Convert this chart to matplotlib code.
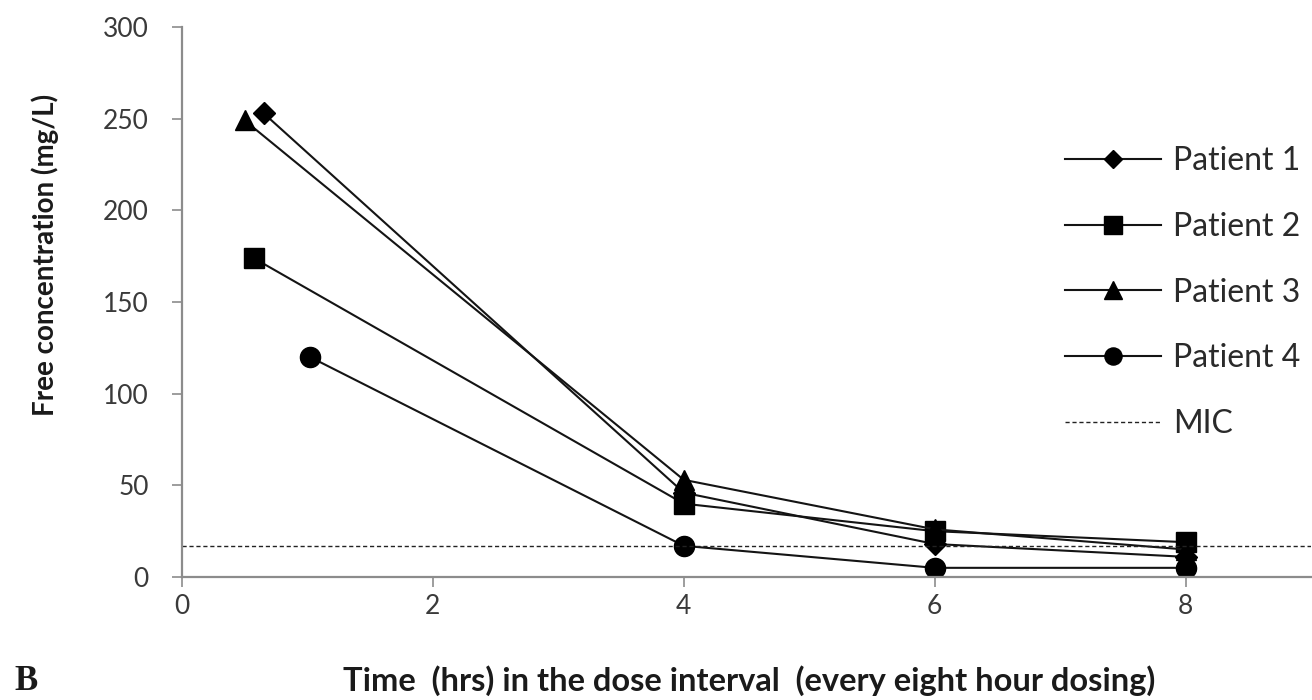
import matplotlib
matplotlib.use("Agg")
import matplotlib.pyplot as plt

# ---- data ----
p1_x = [0.65, 4, 6, 8]
p1_y = [253, 46, 18, 11]
p2_x = [0.57, 4, 6, 8]
p2_y = [174, 40, 25, 19]
p3_x = [0.50, 4, 6, 8]
p3_y = [249, 53, 26, 15]
p4_x = [1.02, 4, 6, 8]
p4_y = [120, 17, 5, 5]
mic_value = 17
labels = ["Patient 1", "Patient 2", "Patient 3", "Patient 4", "MIC"]
x_ticks = [0, 2, 4, 6, 8]
y_ticks = [0, 50, 100, 150, 200, 250, 300]

plt.rcParams['font.family'] = ['Lato', 'DejaVu Sans']

W, H = 1312, 700
fig = plt.figure(figsize=(W / 100, H / 100), dpi=100)
ax = fig.add_axes([182 / W, 1 - 577 / H, (1311 - 182) / W, (577 - 27) / H])

line_kw = dict(color='#141414', lw=1.5, markerfacecolor='black', markeredgecolor='black')
ax.plot(p1_x, p1_y, marker='D', ms=11, label=labels[0], **line_kw)
ax.plot(p2_x, p2_y, marker='s', ms=15, label=labels[1], **line_kw)
ax.plot(p3_x, p3_y, marker='^', ms=15, label=labels[2], **line_kw)
ax.plot(p4_x, p4_y, marker='o', ms=14.5, label=labels[3], **line_kw)
ax.axhline(mic_value, color='#222222', lw=1.0, ls=(0, (3, 2)), label=labels[4])

ax.set_xlim(0, 9)
ax.set_ylim(0, 300)
ax.set_xticks(x_ticks)
ax.set_yticks(y_ticks)
for s in ['top', 'right']:
    ax.spines[s].set_visible(False)
for s in ['left', 'bottom']:
    ax.spines[s].set_color('#8c8c8c')
    ax.spines[s].set_linewidth(1.6)
ax.tick_params(axis='both', colors='#8c8c8c', width=1.2, length=7,
               labelcolor='#3a3a3a', labelsize=19)
ax.tick_params(axis='y', pad=17)
ax.tick_params(axis='x', pad=5)

leg = ax.legend(loc='upper left', bbox_to_anchor=(1065 / W, 1 - 146 / H),
                bbox_transform=fig.transFigure, frameon=False, fontsize=23,
                handlelength=3.0, handletextpad=0.38, labelspacing=1.12,
                borderpad=0, borderaxespad=0, markerscale=0.85)
for t in leg.get_texts():
    t.set_color('#2a2a2a')

fig.text(45 / W, 1 - 255 / H, "Free concentration (mg/L)", rotation=90,
         ha='center', va='center', fontsize=20, fontweight='bold', color='#1a1a1a')
fig.text(749 / W, 1 - 681 / H,
         "Time  (hrs) in the dose interval  (every eight hour dosing)",
         ha='center', va='center', fontsize=23.5, fontweight='bold', color='#1a1a1a')
fig.text(14 / W, 1 - 682 / H, "B", ha='left', va='center', fontsize=25,
         family='Liberation Serif', fontweight='bold', color='#1a1a1a')

fig.savefig("out.png", dpi=100)
